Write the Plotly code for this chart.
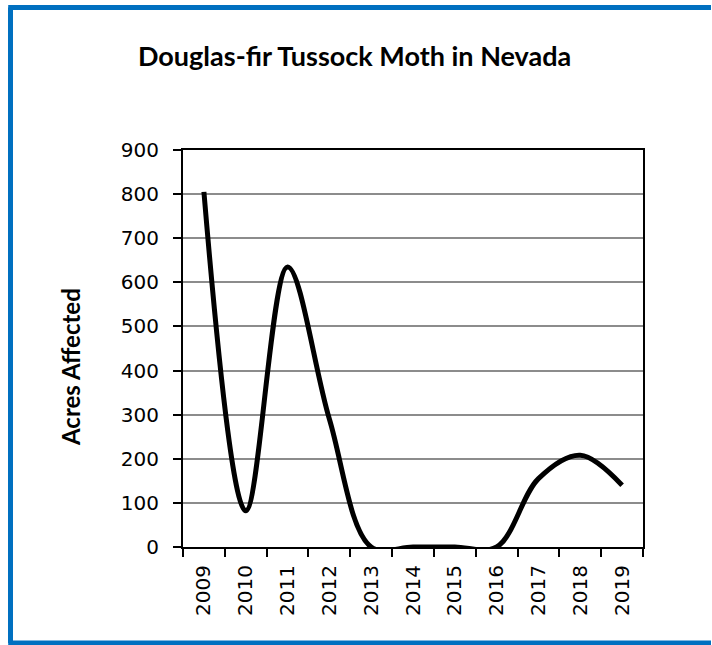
import plotly.graph_objects as go

years = ["2009", "2010", "2011", "2012", "2013", "2014", "2015", "2016", "2017", "2018", "2019"]
acres = [805, 82, 635, 290, 0, 0, 0, 0, 155, 208, 140]
y_ticks = [0, 100, 200, 300, 400, 500, 600, 700, 800, 900]

title_text = "Douglas-fir Tussock Moth in Nevada"
y_title = "Acres Affected"

fig = go.Figure()
fig.add_trace(go.Scatter(
    x=years, y=acres, mode="lines",
    line=dict(color="black", width=5, shape="spline", smoothing=1.0),
    showlegend=False, hoverinfo="x+y",
))

W, H = 712, 645
L, R, T, B = 183, 69, 150, 98
pw, ph = W - L - R, H - T - B

def px(x):
    return (x - L) / pw

def py(y):
    return (H - B - y) / ph

fig.update_layout(
    width=W, height=H,
    margin=dict(l=L, r=R, t=T, b=B, pad=0),
    paper_bgcolor="white", plot_bgcolor="white",
    showlegend=False,
)

fig.update_xaxes(
    type="category", tickson="boundaries", range=[-0.5, len(years) - 0.5],
    showline=True, linecolor="black", linewidth=2, mirror=True,
    ticks="outside", ticklen=8, tickwidth=2, tickcolor="black",
    tickangle=-90, ticklabelstandoff=8,
    tickfont=dict(family="DejaVu Sans", size=20, color="black"),
    showgrid=False, zeroline=False,
)
fig.update_yaxes(
    range=[0, 900], tickvals=y_ticks,
    showline=True, linecolor="black", linewidth=2, mirror=True,
    ticks="outside", ticklen=8, tickwidth=2, tickcolor="black",
    ticklabelstandoff=10,
    tickfont=dict(family="DejaVu Sans", size=20, color="black"),
    showgrid=True, gridcolor="#8c8c8c", gridwidth=1.5, zeroline=False,
)

# Title
fig.add_annotation(
    text="<b>" + title_text + "</b>", xref="paper", yref="paper",
    x=px(354), y=py(55), xanchor="center", yanchor="middle", showarrow=False,
    font=dict(family="Lato", size=27, color="black"),
)
# Y-axis title
fig.add_annotation(
    text="<b>" + y_title + "</b>", xref="paper", yref="paper",
    x=px(70), y=py(367), xanchor="center", yanchor="middle", showarrow=False,
    textangle=-90,
    font=dict(family="Lato", size=24, color="black"),
)

# Blue outer border (left, top, bottom; the right edge lies outside the picture)
border = dict(color="#0070C0", width=5)
x_left, x_right = px(10.5), px(711)
y_top, y_bot = py(7.5), py(643)
fig.add_shape(type="line", xref="paper", yref="paper", x0=x_left, x1=x_left,
              y0=y_bot, y1=y_top, line=border, layer="above")
fig.add_shape(type="line", xref="paper", yref="paper", x0=x_left - 0.005, x1=x_right,
              y0=y_top, y1=y_top, line=border, layer="above")
fig.add_shape(type="line", xref="paper", yref="paper", x0=x_left - 0.005, x1=x_right,
              y0=y_bot, y1=y_bot, line=border, layer="above")

fig.write_html("out.html")
